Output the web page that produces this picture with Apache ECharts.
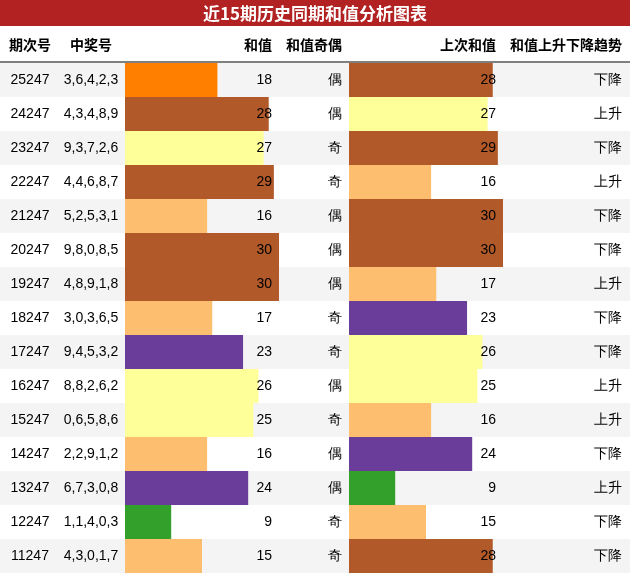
<!DOCTYPE html>
<html>
<head>
<meta charset="utf-8">
<script src="https://cdn.jsdelivr.net/npm/echarts@6/dist/echarts.min.js"></script>
<style>html,body{margin:0;padding:0;background:#fff}#chart{width:630px;height:574px}</style>
</head>
<body>
<div id="chart"></div>
<script>
// 表格数据
var periods = ['25247','24247','23247','22247','21247','20247','19247','18247','17247','16247','15247','14247','13247','12247','11247'];
var numbers = ['3,6,4,2,3','4,3,4,8,9','9,3,7,2,6','4,4,6,8,7','5,2,5,3,1','9,8,0,8,5','4,8,9,1,8','3,0,3,6,5','9,4,5,3,2','8,8,2,6,2','0,6,5,8,6','2,2,9,1,2','6,7,3,0,8','1,1,4,0,3','4,3,0,1,7'];
var sums = [18,28,27,29,16,30,30,17,23,26,25,16,24,9,15];
var parity = ['偶','偶','奇','奇','偶','偶','偶','奇','奇','偶','奇','偶','偶','奇','奇'];
var prevSums = [28,27,29,16,30,30,17,23,26,25,16,24,9,15,28];
var trend = ['下降','上升','下降','上升','下降','下降','上升','下降','下降','上升','上升','下降','上升','下降','下降'];
var headers = ['期次号','中奖号','和值','和值奇偶','上次和值','和值上升下降趋势'];

var TOP = 63, ROW = 34, FONT = '14px "Liberation Sans", Arial, sans-serif';

function barColor(v){
    if (v >= 28) return '#b15928';
    if (v >= 25) return '#ffff99';
    if (v >= 20) return '#6a3d9a';
    if (v === 18) return '#ff7f00';
    if (v >= 12) return '#fdbf6f';
    return '#33a02c';
}

var graphic = [];
graphic.push({type:'rect', z:-10, shape:{x:0,y:0,width:630,height:26}, style:{fill:'#b22222'}});
graphic.push({type:'text', x:315, y:14, style:{text:'近15期历史同期和值分析图表', fill:'#fff', font:'bold 17px "Noto Sans CJK SC", sans-serif', align:'center', verticalAlign:'middle'}});
for (var i = 0; i < periods.length; i++) {
    if (i % 2 === 0) graphic.push({type:'rect', z:-10, shape:{x:0,y:TOP+i*ROW,width:630,height:ROW}, style:{fill:'#f4f4f4'}});
}
graphic.push({type:'line', shape:{x1:0,y1:62,x2:630,y2:62}, style:{stroke:'#000',lineWidth:1}});

var hx = [[30,'center'],[91,'center'],[272,'right'],[342,'right'],[496,'right'],[622,'right']];
headers.forEach(function(h, k){
    graphic.push({type:'text', x:hx[k][0], y:45, z:10, style:{text:h, fill:'#000', font:'bold 14px "Noto Sans CJK SC", sans-serif', align:hx[k][1], verticalAlign:'middle'}});
});
periods.forEach(function(p, i){
    var cy = TOP + i*ROW + ROW/2;
    var cells = [p, numbers[i], String(sums[i]), parity[i], String(prevSums[i]), trend[i]];
    cells.forEach(function(c, k){
        graphic.push({type:'text', x:hx[k][0], y:cy, z:10, style:{text:c, fill:'#000', font:FONT, align:hx[k][1], verticalAlign:'middle'}});
    });
});

var myChart = echarts.init(document.getElementById('chart'));
myChart.setOption({
    animation: false,
    grid: [
        {left:125, top:TOP, width:154, height:ROW*15},
        {left:349, top:TOP, width:154, height:ROW*15}
    ],
    xAxis: [
        {gridIndex:0, type:'value', min:0, max:30, show:false},
        {gridIndex:1, type:'value', min:0, max:30, show:false}
    ],
    yAxis: [
        {gridIndex:0, type:'category', data:periods, inverse:true, show:false},
        {gridIndex:1, type:'category', data:periods, inverse:true, show:false}
    ],
    series: [
        {type:'bar', xAxisIndex:0, yAxisIndex:0, barWidth:'100%', data:sums,
         itemStyle:{color:function(p){return barColor(p.value);}}},
        {type:'bar', xAxisIndex:1, yAxisIndex:1, barWidth:'100%', data:prevSums,
         itemStyle:{color:function(p){return barColor(p.value);}}}
    ],
    graphic: graphic
});
</script>
</body>
</html>
